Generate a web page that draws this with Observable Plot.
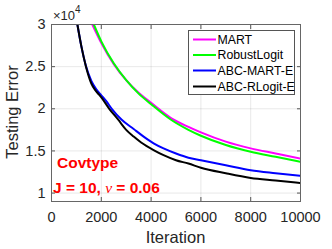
<!DOCTYPE html>
<html>
<head>
<meta charset="utf-8">
<script src="https://cdn.jsdelivr.net/npm/d3@7"></script>
<script src="https://cdn.jsdelivr.net/npm/@observablehq/plot@0.6"></script>
<style>
  html, body { margin: 0; padding: 0; background: white; }
</style>
</head>
<body>
<div id="chart"></div>
<script>
// ---- data (testing error in units of 1e4) ----
const seriesNames = ["MART", "RobustLogit", "ABC-MART-E", "ABC-RLogit-E"];
const seriesColors = ["#ff00ff", "#00ff00", "#0000ff", "#000000"];

const martIter = [1640, 2000, 2500, 3000, 3500, 4000, 4800, 5500, 6000, 7000, 8000, 9000, 10000];
const martErr  = [3.0, 2.78, 2.53, 2.34, 2.19, 2.07, 1.89, 1.785, 1.72, 1.61, 1.53, 1.47, 1.41];

const robustIter = [1700, 2000, 2500, 3000, 3500, 4000, 4800, 5500, 6000, 7000, 8000, 9000, 10000];
const robustErr  = [3.0, 2.80, 2.54, 2.34, 2.18, 2.055, 1.87, 1.75, 1.68, 1.57, 1.49, 1.43, 1.37];

const abcMartIter = [1040, 1200, 1390, 1600, 1800, 2000, 2200, 2420, 2820, 3300, 3700, 4100, 4500, 5000, 5500, 6000, 7000, 8000, 9000, 10000];
const abcMartErr  = [3.0, 2.74, 2.50, 2.33, 2.23, 2.16, 2.09, 2.00, 1.87, 1.76, 1.67, 1.59, 1.53, 1.47, 1.42, 1.39, 1.33, 1.27, 1.235, 1.205];

const abcRlogitIter = [1040, 1200, 1385, 1600, 1750, 1900, 2000, 2320, 2680, 3000, 3300, 3600, 4100, 4500, 5000, 5500, 6000, 7000, 8000, 9000, 10000];
const abcRlogitErr  = [3.0, 2.74, 2.50, 2.30, 2.225, 2.17, 2.135, 2.00, 1.87, 1.75, 1.67, 1.60, 1.51, 1.45, 1.39, 1.35, 1.30, 1.235, 1.18, 1.15, 1.12];

const xTicks = [0, 2000, 4000, 6000, 8000, 10000];
const yTicks = [1, 1.5, 2, 2.5, 3];

const iters = [martIter, robustIter, abcMartIter, abcRlogitIter];
const errs = [martErr, robustErr, abcMartErr, abcRlogitErr];
const rows = [];
seriesNames.forEach((name, k) => {
  iters[k].forEach((it, i) => rows.push({series: name, iter: it, err: errs[k][i]}));
});

const font = "'Liberation Sans', Arial, Helvetica, sans-serif";
const axisColor = "#262626";

const chart = Plot.plot({
  width: 332,
  height: 249,
  marginLeft: 51,
  marginRight: 32,
  marginTop: 24,
  marginBottom: 48,
  style: {fontFamily: font, fontSize: "14.5px", color: axisColor, background: "white", overflow: "visible"},
  x: {domain: [0, 10000]},
  y: {domain: [0.9, 3]},
  color: {domain: seriesNames, range: seriesColors},
  marks: [
    Plot.gridX(xTicks, {stroke: "#000", strokeOpacity: 0.09}),
    Plot.gridY(yTicks, {stroke: "#000", strokeOpacity: 0.09}),
    Plot.line(rows, {x: "iter", y: "err", z: "series", stroke: "series", strokeWidth: 2, clip: true, curve: "monotone-x"}),
    // inward ticks
    Plot.axisX(xTicks, {anchor: "bottom", tickSize: 4, dy: -4, text: null, stroke: "#555", label: null}),
    Plot.axisX(xTicks, {anchor: "top", tickSize: 4, dy: 4, text: null, stroke: "#555", label: null}),
    Plot.axisY(yTicks, {anchor: "left", tickSize: 4, dx: 4, text: null, stroke: "#555", label: null}),
    Plot.axisY(yTicks, {anchor: "right", tickSize: 4, dx: -4, text: null, stroke: "#555", label: null}),
    // labels
    Plot.axisX(xTicks, {anchor: "bottom", tickSize: 0, tickPadding: 10, tickFormat: d => String(d), label: null, fill: axisColor}),
    Plot.axisY(yTicks, {anchor: "left", tickSize: 0, tickPadding: 6, tickFormat: d => String(d), label: null, fill: axisColor}),
    Plot.frame({stroke: "#666", strokeWidth: 1})
  ]
});

document.getElementById("chart").appendChild(chart);

const svg = d3.select(chart);

// axis titles
svg.append("text")
  .attr("x", 175.5).attr("y", 242.5)
  .attr("text-anchor", "middle")
  .attr("font-family", font).attr("font-size", "16.5px").attr("fill", axisColor)
  .text("Iteration");
svg.append("text")
  .attr("transform", "translate(18,112) rotate(-90)")
  .attr("text-anchor", "middle")
  .attr("font-family", font).attr("font-size", "16.5px").attr("fill", axisColor)
  .text("Testing Error");

// exponent label
const expo = svg.append("text")
  .attr("x", 53).attr("y", 20)
  .attr("text-anchor", "start")
  .attr("font-family", font).attr("font-size", "13px").attr("fill", axisColor);
expo.append("tspan").text("×10");
expo.append("tspan").attr("font-size", "10px").attr("dy", -7).text("4");

// legend
const lg = svg.append("g").attr("text-anchor", "start");
lg.append("rect").attr("x", 188.5).attr("y", 30.5).attr("width", 106).attr("height", 64)
  .attr("fill", "#ffffff").attr("stroke", "#555555").attr("stroke-width", 1);
const rowY = [39.5, 55, 70.5, 86.5];
seriesNames.forEach((name, i) => {
  lg.append("line").attr("x1", 193).attr("x2", 216).attr("y1", rowY[i]).attr("y2", rowY[i])
    .attr("stroke", seriesColors[i]).attr("stroke-width", 2);
  lg.append("text").attr("x", 217.5).attr("y", rowY[i]).attr("dy", "0.36em")
    .attr("text-anchor", "start")
    .attr("font-family", font).attr("font-size", "12.3px").attr("fill", "#000").text(name);
});

// annotation text
svg.append("text")
  .attr("x", 57).attr("y", 168)
  .attr("text-anchor", "start")
  .attr("font-family", font).attr("font-size", "15.5px").attr("font-weight", "bold").attr("fill", "#ff0000")
  .text("Covtype");
const ann = svg.append("text")
  .attr("x", 53).attr("y", 193)
  .attr("text-anchor", "start")
  .attr("font-family", font).attr("font-size", "15.5px").attr("font-weight", "bold").attr("fill", "#ff0000");
ann.append("tspan").text("J = 10, ");
ann.append("tspan").attr("font-family", "'Liberation Serif', 'DejaVu Serif', serif").attr("font-style", "italic").attr("font-weight", "normal").text("ν");
ann.append("tspan").text(" = 0.06");
</script>
</body>
</html>
